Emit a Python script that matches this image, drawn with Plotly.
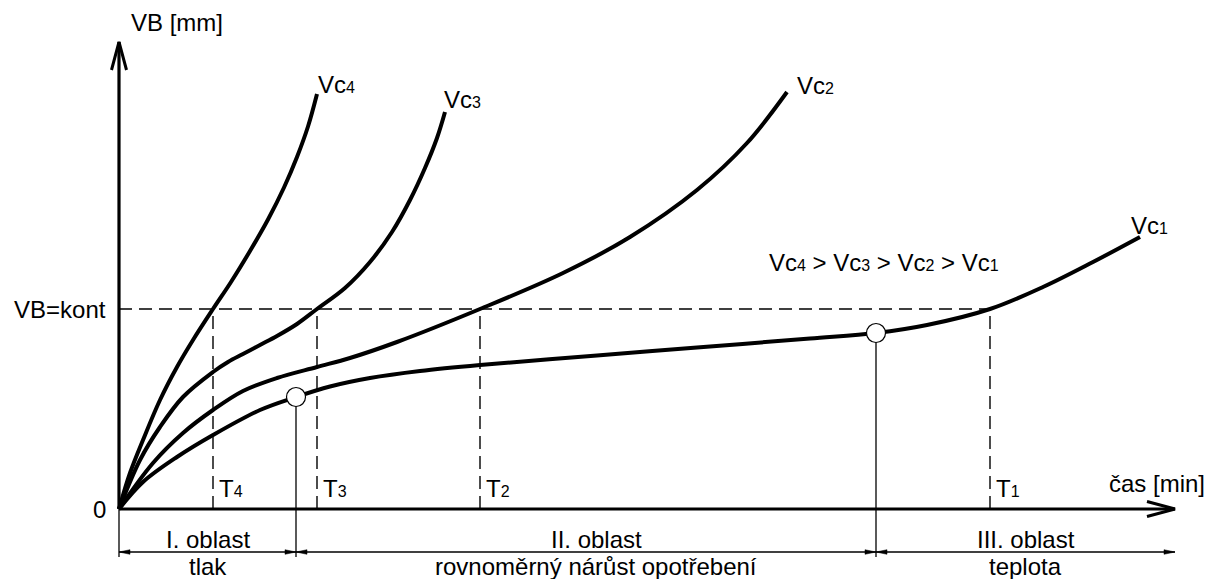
import plotly.graph_objects as go

# ---------------- data (time in arbitrary units, VB in arbitrary units) ----------------
t_vc4 = [0, 1.1, 2.4, 4.1, 5.8, 7.4, 9.4, 11.2, 13.1, 14.9, 16.5, 17.8, 18.9, 19.8]
vb_vc4 = [0, 3.6, 6.9, 10.9, 14.2, 16.9, 20.0, 22.7, 25.8, 28.95, 32.15, 35.2, 38.25, 41.5]

t_vc3 = [0, 2.1, 4.1, 6.4, 9.4, 10.9, 12.4, 14.1, 15.8, 17.8, 19.8, 22.6, 25.1, 27.3, 29.1, 30.6, 31.8, 32.6]
vb_vc3 = [0, 4.9, 8.2, 11.2, 13.7, 14.7, 15.5, 16.4, 17.3, 18.5, 20.0, 22.1, 24.7, 27.7, 30.9, 34.1, 37.1, 39.7]

t_vc2 = [0, 3.4, 6.4, 9.4, 12.4, 15.8, 19.8, 23.1, 27.8, 36.1, 44.4, 51.1, 57.8, 62.8, 66.8]
vb_vc2 = [0, 4.6, 7.6, 9.9, 11.8, 13.1, 14.2, 15.1, 16.7, 20.0, 23.6, 27.2, 31.9, 36.6, 41.7]

t_vc1 = [0, 2.4, 5.8, 9.4, 14.1, 17.7, 21.1, 25.1, 30.1, 36.1, 47.8, 57.8, 69.1, 75.7, 80.8, 87.1, 92.4, 97.4, 102.1]
vb_vc1 = [0, 2.7, 5.2, 7.4, 9.9, 11.2, 12.25, 13.1, 13.8, 14.4, 15.35, 16.15, 17.05, 17.6, 18.4, 20.0, 22.2, 24.7, 27.2]

curve_names = ["Vc4", "Vc3", "Vc2", "Vc1"]
curve_digits = ["4", "3", "2", "1"]

vb_kont = 20.0
t_names = ["T1", "T2", "T3", "T4"]
t_values = [87.1, 36.1, 19.8, 9.4]

region_bounds = [0, 17.7, 75.7]
circle_t = [17.7, 75.7]
circle_vb = [11.2, 17.6]
region_titles = ["I. oblast", "II. oblast", "III. oblast"]
region_subtitles = ["tlak", "rovnoměrný nárůst opotřebení", "teplota"]

x_end = 105.6      # tip of the time axis
y_end = 46.7       # tip of the VB axis

# ---------------- styling ----------------
PX = 0.1  # data units per screen pixel (both axes)
FONT = "Liberation Sans, Arial, sans-serif"
FS = 24
SUB = 16
BLACK = "#000000"

def sub(base, digit):
    return f"{base}<span style='font-size:{SUB}px'>{digit}</span>"

fig = go.Figure()

curves = [(t_vc4, vb_vc4), (t_vc3, vb_vc3), (t_vc2, vb_vc2), (t_vc1, vb_vc1)]
for (tx, vy), nm in zip(curves, curve_names):
    fig.add_trace(go.Scatter(x=tx, y=vy, mode="lines", name=nm,
                             line=dict(color=BLACK, width=4, shape="spline", smoothing=1.0),
                             hoverinfo="skip"))

shapes = []
# dashed VB = kont line
shapes.append(dict(type="line", x0=0, x1=max(t_values), y0=vb_kont, y1=vb_kont,
                   line=dict(color=BLACK, width=1.4, dash="13px,7px"), layer="below"))
for tv in t_values:
    shapes.append(dict(type="line", x0=tv, x1=tv, y0=0, y1=vb_kont,
                       line=dict(color=BLACK, width=1.4, dash="13px,7px"), layer="below"))

# region boundary thin lines
bracket_y = -4.3
bottom_y = -4.8
shapes.append(dict(type="line", x0=region_bounds[0], x1=region_bounds[0], y0=0, y1=bottom_y,
                   line=dict(color=BLACK, width=1.3), layer="below"))
for ct, cv in zip(circle_t, circle_vb):
    shapes.append(dict(type="line", x0=ct, x1=ct, y0=cv, y1=bottom_y,
                       line=dict(color=BLACK, width=1.3), layer="below"))
# bracket line
shapes.append(dict(type="line", x0=region_bounds[0], x1=x_end, y0=bracket_y, y1=bracket_y,
                   line=dict(color=BLACK, width=1.3), layer="below"))

# axes
shapes.append(dict(type="line", x0=0, x1=x_end, y0=0, y1=0, line=dict(color=BLACK, width=3.2), layer="below"))
shapes.append(dict(type="line", x0=0, x1=0, y0=0, y1=y_end, line=dict(color=BLACK, width=3.2), layer="below"))
fig.update_layout(shapes=shapes)

# open arrowheads on axes
al, aw = 28 * PX, 7.5 * PX
fig.add_trace(go.Scatter(x=[x_end - al, x_end, x_end - al], y=[aw, 0, -aw], mode="lines",
                         line=dict(color=BLACK, width=3), hoverinfo="skip"))
fig.add_trace(go.Scatter(x=[-aw, 0, aw], y=[y_end - al, y_end, y_end - al], mode="lines",
                         line=dict(color=BLACK, width=3), hoverinfo="skip"))

# filled small arrowheads on the bracket line
hl, hw = 11 * PX, 2.3 * PX
heads = [(region_bounds[0], -1)]
for b in region_bounds[1:]:
    heads.append((b, 1))
    heads.append((b, -1))
heads.append((x_end, 1))
for tip, d in heads:
    fig.add_trace(go.Scatter(x=[tip, tip - d * hl, tip - d * hl, tip],
                             y=[bracket_y, bracket_y + hw, bracket_y - hw, bracket_y],
                             mode="lines", fill="toself", fillcolor=BLACK,
                             line=dict(color=BLACK, width=0.5), hoverinfo="skip"))

# circles
fig.add_trace(go.Scatter(x=circle_t, y=circle_vb, mode="markers",
                         marker=dict(size=19, color="white", line=dict(color=BLACK, width=1.2)),
                         hoverinfo="skip"))

ann = []
def text(x, y, s, xa="left", ya="middle", xs=0, ys=0):
    ann.append(dict(x=x, y=y, text=s, showarrow=False, xanchor=xa, yanchor=ya,
                    xshift=xs, yshift=ys, font=dict(family=FONT, size=FS, color=BLACK)))

# axis titles
text(0, y_end, "VB [mm]", xa="left", ys=20, xs=10)
text(x_end, 0, "čas [min]", xa="right", ys=26, xs=32)
text(0, 0, "0", xa="right", xs=-11)
text(0, vb_kont, "VB=kont", xa="right", xs=-11)

# T labels
for nm, tv in zip(t_names, t_values):
    text(tv, 0, sub(nm[0], nm[1]), xa="left", xs=4, ys=21)

# curve labels
label_shift = [(-1, 10), (-3, 13), (8, 7), (-11, 12)]
for (tx, vy), nm, dg, (xs, ys) in zip(curves, curve_names, curve_digits, label_shift):
    text(tx[-1], vy[-1], sub(nm[:2], dg), xa="left", xs=xs, ys=ys)

# ordering note
text(64.8, 24.7, " > ".join(sub(n[:2], d) for n, d in zip(curve_names, curve_digits)), xa="left")

# region labels
edges = region_bounds + [x_end]
for i in range(3):
    mid = (edges[i] + edges[i + 1]) / 2
    xs = 10 if i == 1 else 0
    text(mid, bracket_y, region_titles[i], xa="center", xs=xs, ys=13)
    text(mid, bracket_y, region_subtitles[i], xa="center", xs=xs, ys=-14)

fig.update_layout(
    annotations=ann,
    width=1224, height=579,
    margin=dict(l=0, r=0, t=0, b=0, pad=0),
    paper_bgcolor="white", plot_bgcolor="white",
    showlegend=False,
    xaxis=dict(range=[-11.9, 110.5], visible=False, fixedrange=True),
    yaxis=dict(range=[-7.0, 50.9], visible=False, fixedrange=True),
)

fig.write_html("out.html", config={"displayModeBar": False},
               post_script="document.body.style.margin='0';document.body.style.overflow='hidden';")
